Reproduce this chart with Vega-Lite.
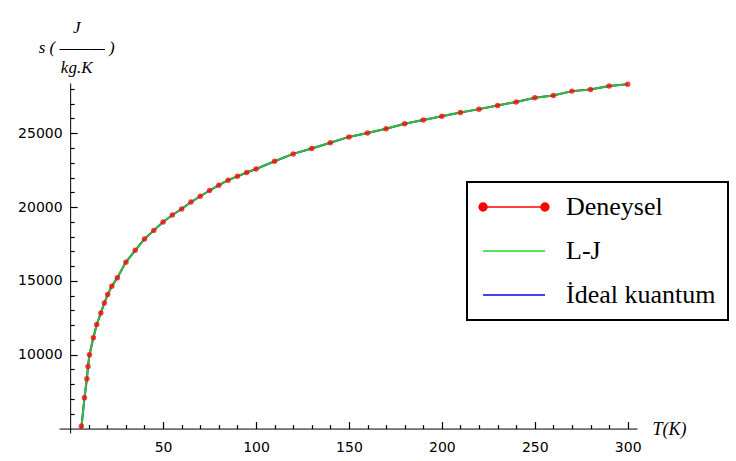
{
  "$schema": "https://vega.github.io/schema/vega-lite/v6.json",
  "width": 578,
  "height": 350,
  "autosize": "none",
  "padding": {"left": 59, "top": 83, "right": 99, "bottom": 28},
  "background": "white",
  "config": {
    "view": {"stroke": null},
    "axis": {
      "grid": false,
      "ticks": true,
      "domainColor": "black",
      "domainWidth": 1,
      "tickColor": "black",
      "tickWidth": 1.2,
      "tickOpacity": 1,
      "labelFont": "DejaVu Sans",
      "labelFontSize": 14,
      "labelColor": "black",
      "labelFlush": false,
      "labelOverlap": false,
      "titleFont": "Times New Roman",
      "titleFontStyle": "italic",
      "titleFontWeight": "normal",
      "titleColor": "black"
    },
    "legend": {"labelFont": "Times New Roman", "labelFontSize": 26}
  },
  "data": {
    "values": [
      {"T": 6, "Deneysel": 5150, "L-J": 5000, "İdeal kuantum": 5000},
      {"T": 7.7, "Deneysel": 7080, "L-J": 7080, "İdeal kuantum": 7080},
      {"T": 9, "Deneysel": 8370, "L-J": 8370, "İdeal kuantum": 8370},
      {"T": 9.6, "Deneysel": 9200, "L-J": 9200, "İdeal kuantum": 9200},
      {"T": 10.4, "Deneysel": 10000, "L-J": 10000, "İdeal kuantum": 10000},
      {"T": 12.5, "Deneysel": 11150, "L-J": 11150, "İdeal kuantum": 11150},
      {"T": 14.3, "Deneysel": 12050, "L-J": 12050, "İdeal kuantum": 12050},
      {"T": 16.5, "Deneysel": 12820, "L-J": 12820, "İdeal kuantum": 12820},
      {"T": 18.4, "Deneysel": 13500, "L-J": 13500, "İdeal kuantum": 13500},
      {"T": 20.2, "Deneysel": 14080, "L-J": 14080, "İdeal kuantum": 14080},
      {"T": 22.4, "Deneysel": 14630, "L-J": 14630, "İdeal kuantum": 14630},
      {"T": 25.4, "Deneysel": 15220, "L-J": 15220, "İdeal kuantum": 15220},
      {"T": 30, "Deneysel": 16270, "L-J": 16270, "İdeal kuantum": 16270},
      {"T": 35, "Deneysel": 17070, "L-J": 17070, "İdeal kuantum": 17070},
      {"T": 40, "Deneysel": 17840, "L-J": 17840, "İdeal kuantum": 17840},
      {"T": 45, "Deneysel": 18420, "L-J": 18420, "İdeal kuantum": 18420},
      {"T": 50, "Deneysel": 18990, "L-J": 18990, "İdeal kuantum": 18990},
      {"T": 55, "Deneysel": 19460, "L-J": 19460, "İdeal kuantum": 19460},
      {"T": 60, "Deneysel": 19870, "L-J": 19870, "İdeal kuantum": 19870},
      {"T": 65, "Deneysel": 20340, "L-J": 20340, "İdeal kuantum": 20340},
      {"T": 70, "Deneysel": 20730, "L-J": 20730, "İdeal kuantum": 20730},
      {"T": 75, "Deneysel": 21120, "L-J": 21120, "İdeal kuantum": 21120},
      {"T": 80, "Deneysel": 21480, "L-J": 21480, "İdeal kuantum": 21480},
      {"T": 85, "Deneysel": 21820, "L-J": 21820, "İdeal kuantum": 21820},
      {"T": 90, "Deneysel": 22080, "L-J": 22080, "İdeal kuantum": 22080},
      {"T": 95, "Deneysel": 22340, "L-J": 22340, "İdeal kuantum": 22340},
      {"T": 100, "Deneysel": 22580, "L-J": 22580, "İdeal kuantum": 22580},
      {"T": 110, "Deneysel": 23100, "L-J": 23100, "İdeal kuantum": 23100},
      {"T": 120, "Deneysel": 23600, "L-J": 23600, "İdeal kuantum": 23600},
      {"T": 130, "Deneysel": 23970, "L-J": 23970, "İdeal kuantum": 23970},
      {"T": 140, "Deneysel": 24350, "L-J": 24350, "İdeal kuantum": 24350},
      {"T": 150, "Deneysel": 24750, "L-J": 24750, "İdeal kuantum": 24750},
      {"T": 160, "Deneysel": 25020, "L-J": 25020, "İdeal kuantum": 25020},
      {"T": 170, "Deneysel": 25300, "L-J": 25300, "İdeal kuantum": 25300},
      {"T": 180, "Deneysel": 25640, "L-J": 25640, "İdeal kuantum": 25640},
      {"T": 190, "Deneysel": 25900, "L-J": 25900, "İdeal kuantum": 25900},
      {"T": 200, "Deneysel": 26150, "L-J": 26150, "İdeal kuantum": 26150},
      {"T": 210, "Deneysel": 26400, "L-J": 26400, "İdeal kuantum": 26400},
      {"T": 220, "Deneysel": 26630, "L-J": 26630, "İdeal kuantum": 26630},
      {"T": 230, "Deneysel": 26880, "L-J": 26880, "İdeal kuantum": 26880},
      {"T": 240, "Deneysel": 27120, "L-J": 27120, "İdeal kuantum": 27120},
      {"T": 250, "Deneysel": 27400, "L-J": 27400, "İdeal kuantum": 27400},
      {"T": 260, "Deneysel": 27550, "L-J": 27550, "İdeal kuantum": 27550},
      {"T": 270, "Deneysel": 27850, "L-J": 27850, "İdeal kuantum": 27850},
      {"T": 280, "Deneysel": 27960, "L-J": 27960, "İdeal kuantum": 27960},
      {"T": 290, "Deneysel": 28190, "L-J": 28190, "İdeal kuantum": 28190},
      {"T": 300, "Deneysel": 28320, "L-J": 28320, "İdeal kuantum": 28320}
    ]
  },
  "transform": [
    {"fold": ["Deneysel", "L-J", "İdeal kuantum"], "as": ["series", "s"]}
  ],
  "encoding": {
    "x": {
      "field": "T",
      "type": "quantitative",
      "scale": {"domain": [-6, 305], "nice": false, "zero": false},
      "axis": {
        "title": "T(K)",
        "titleFontSize": 18,
        "titleAlign": "left",
        "titleBaseline": "middle",
        "titleAngle": 0,
        "titleX": 593,
        "titleY": 1,
        "values": [10, 20, 30, 40, 50, 60, 70, 80, 90, 100, 110, 120, 130, 140, 150, 160, 170, 180, 190, 200, 210, 220, 230, 240, 250, 260, 270, 280, 290, 300],
        "format": "d",
        "labelExpr": "datum.value % 50 === 0 ? datum.label : ''",
        "offset": -4.43,
        "tickSize": -7,
        "tickDash": {"condition": {"test": "datum.value % 50 === 0", "value": [7, 0]}, "value": [4, 30]},
        "labelPadding": 19
      }
    },
    "y": {
      "field": "s",
      "type": "quantitative",
      "scale": {"domain": [4700, 28400], "nice": false, "zero": false},
      "axis": {
        "title": ["J", "s ( ——— )", "kg.K"],
        "titleFontSize": 17,
        "titleLineHeight": 20,
        "titleAngle": 0,
        "titleAlign": "center",
        "titleBaseline": "middle",
        "titleX": 6,
        "titleY": -56,
        "values": [6000, 7000, 8000, 9000, 10000, 11000, 12000, 13000, 14000, 15000, 16000, 17000, 18000, 19000, 20000, 21000, 22000, 23000, 24000, 25000, 26000, 27000, 28000],
        "format": "d",
        "labelExpr": "datum.value % 5000 === 0 ? datum.label : ''",
        "offset": -11.15,
        "tickSize": -7,
        "tickDash": {"condition": {"test": "datum.value % 5000 === 0", "value": [7, 0]}, "value": [4, 30]},
        "labelPadding": 15
      }
    },
    "color": {
      "field": "series",
      "type": "nominal",
      "scale": {"domain": ["Deneysel", "L-J", "İdeal kuantum"], "range": ["#ff0000", "#22dd22", "#0000ff"]},
      "legend": {
        "title": null,
        "orient": "none",
        "legendX": 408,
        "legendY": 99,
        "direction": "vertical",
        "strokeColor": "black",
        "fillColor": "white",
        "padding": 12,
        "rowPadding": 18,
        "symbolSize": 576,
        "symbolOffset": 22,
        "symbolStrokeWidth": 1.5,
        "labelOffset": 39,
        "labelFont": "Times New Roman",
        "labelFontSize": 26,
        "labelColor": "black",
        "labelLimit": 400,
        "encode": {
          "legend": {"update": {"strokeWidth": {"value": 2}}},
          "symbols": {
            "update": {
              "shape": {"signal": "datum.value === 'Deneysel' ? 'M-2.58,0L2.58,0M-2.91,0a0.33,0.33 0 1,0 0.66,0a0.33,0.33 0 1,0 -0.66,0M2.25,0a0.33,0.33 0 1,0 0.66,0a0.33,0.33 0 1,0 -0.66,0' : 'M-2.58,0L2.58,0'"},
              "fill": {"signal": "scale('color', datum.value)"},
              "stroke": {"signal": "scale('color', datum.value)"},
              "strokeWidth": {"value": 1.5},
              "opacity": {"value": 1}
            }
          }
        }
      }
    }
  },
  "layer": [
    {
      "transform": [{"filter": "datum.series === 'İdeal kuantum'"}],
      "mark": {"type": "line", "strokeWidth": 2}
    },
    {
      "transform": [{"filter": "datum.series === 'Deneysel'"}],
      "mark": {"type": "line", "strokeWidth": 1}
    },
    {
      "transform": [{"filter": "datum.series === 'L-J'"}],
      "mark": {"type": "line", "strokeWidth": 2, "opacity": 0.85}
    },
    {
      "transform": [{"filter": "datum.series === 'Deneysel'"}],
      "mark": {"type": "point", "filled": true, "size": 30, "opacity": 0.75}
    }
  ]
}
